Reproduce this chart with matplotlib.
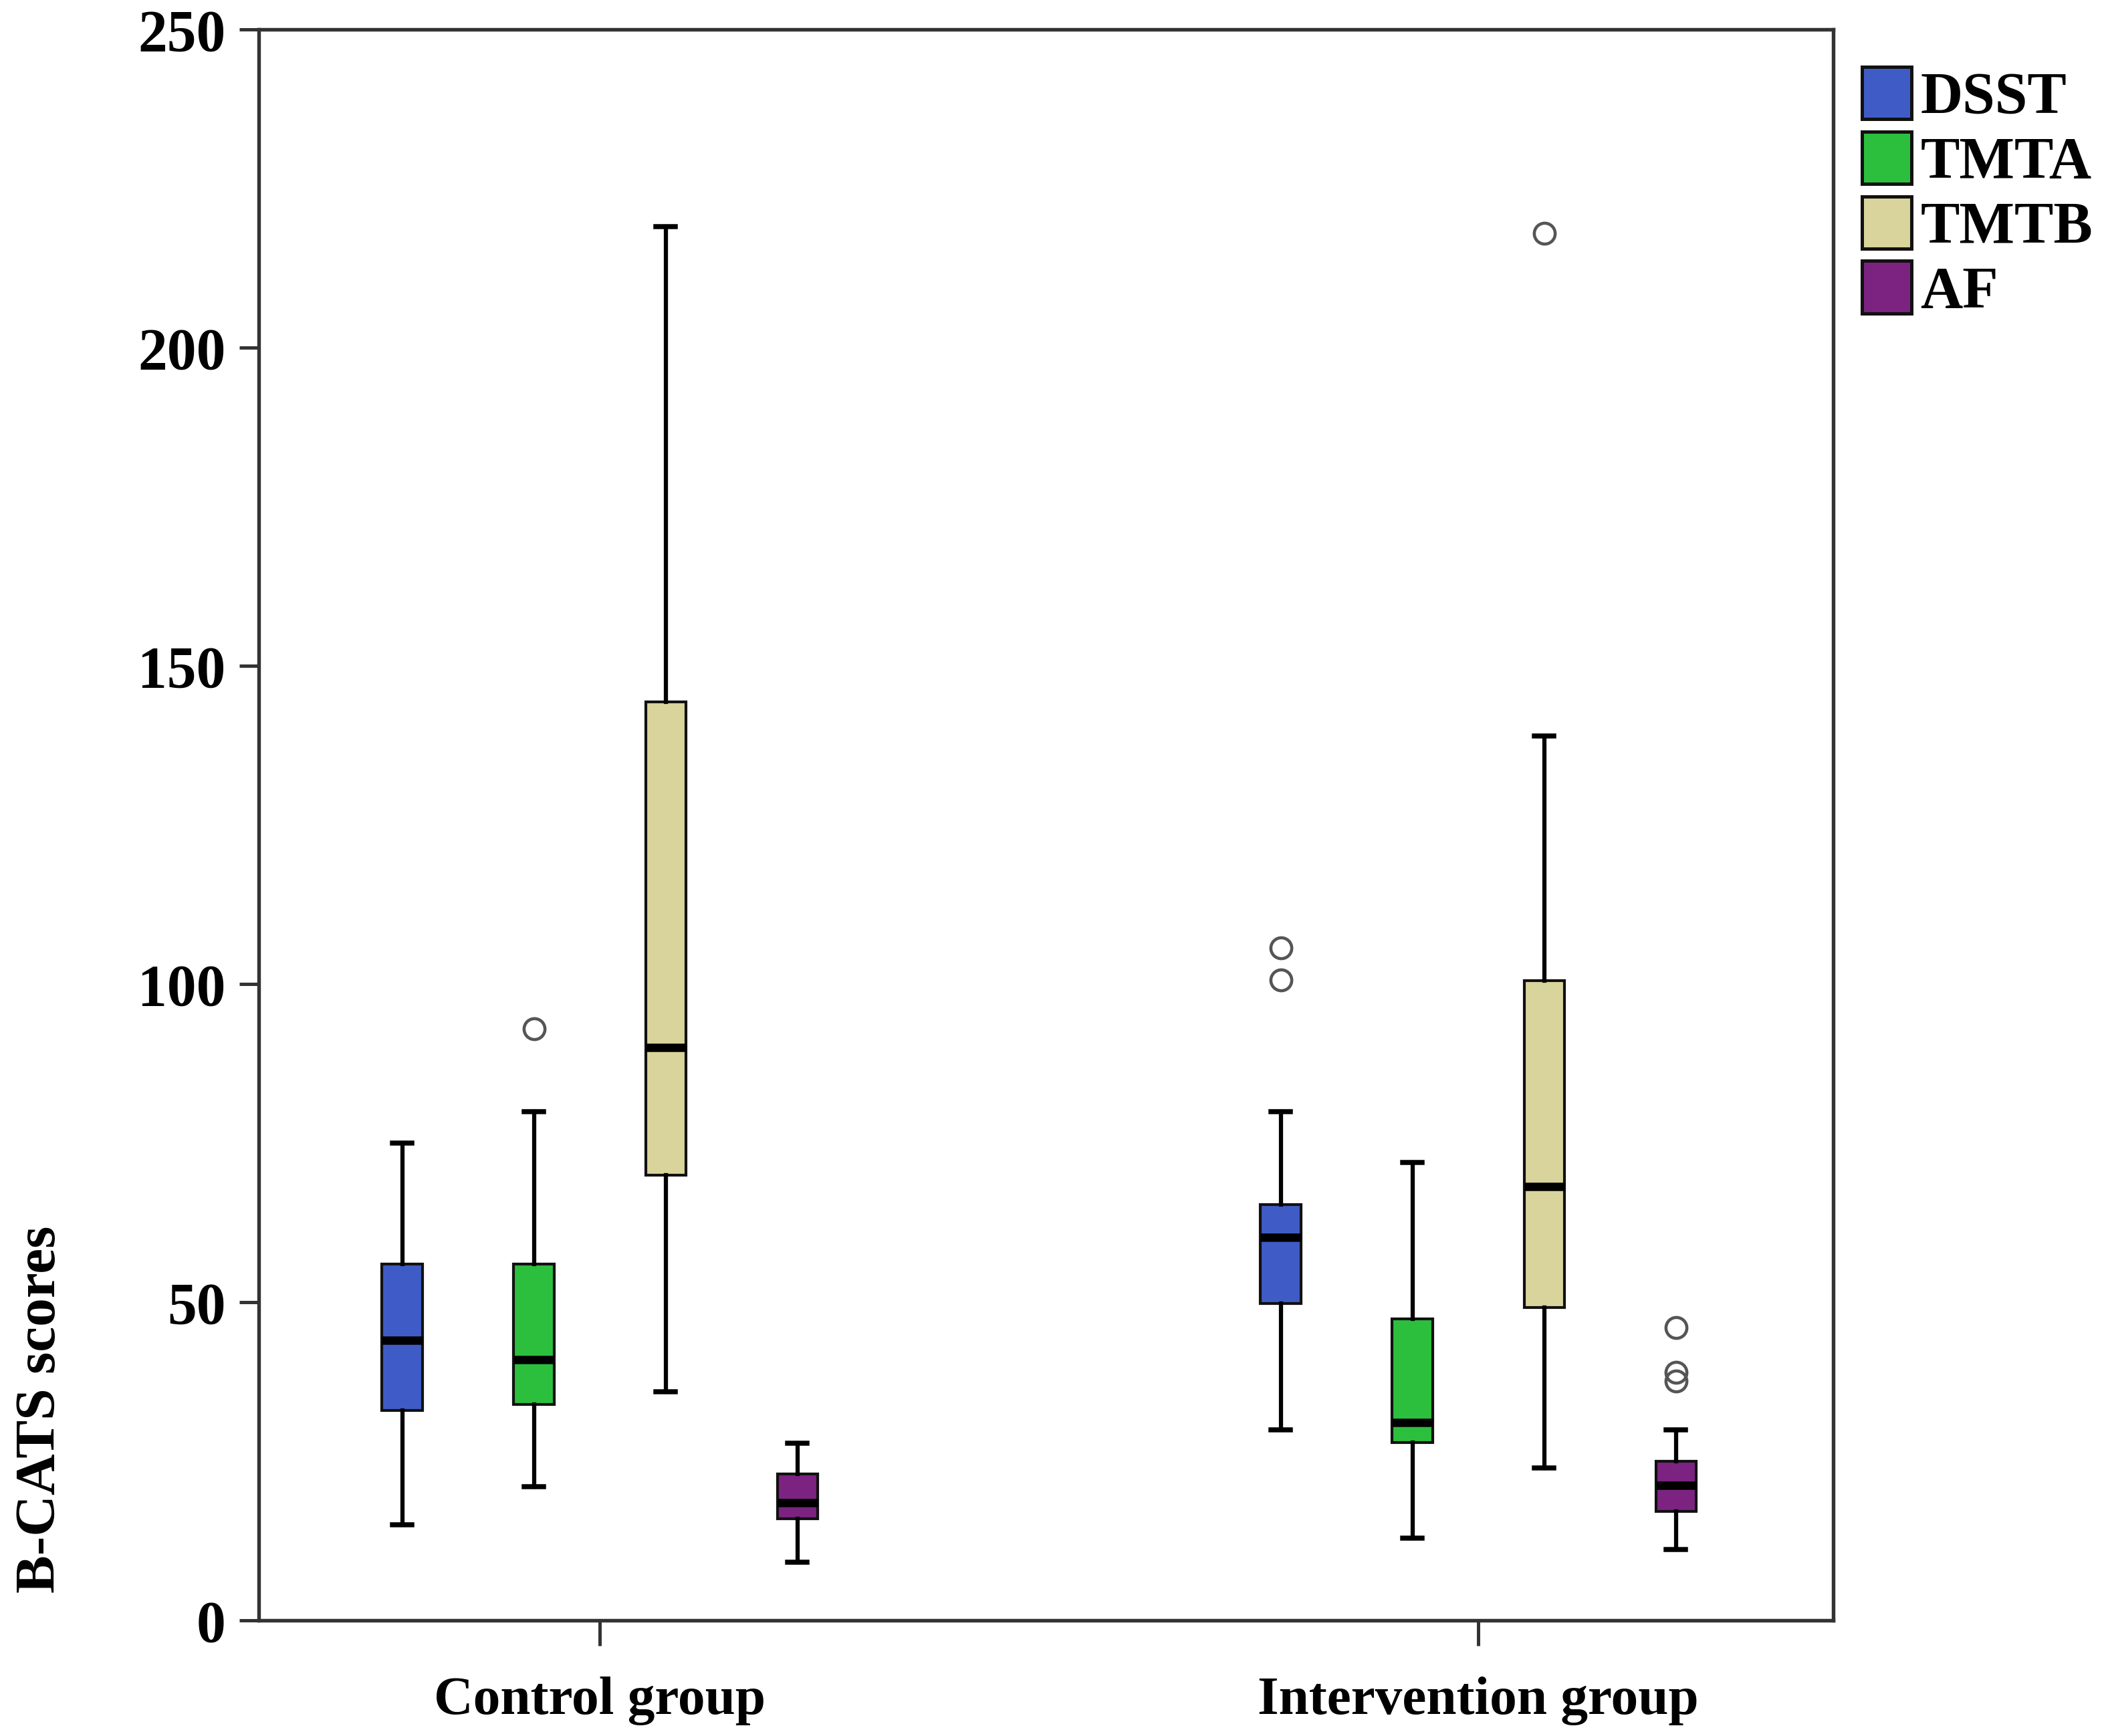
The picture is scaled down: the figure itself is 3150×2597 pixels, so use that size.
import matplotlib
matplotlib.use("Agg")
import matplotlib.pyplot as plt
from matplotlib.patches import Patch

plt.rcParams['font.family'] = ['Liberation Serif', 'DejaVu Serif']
plt.rcParams['font.weight'] = 'bold'

# data (box summary values)
groups = ["Control group", "Intervention group"]
tests = ["DSST", "TMTA", "TMTB", "AF"]
colors = ["#3f5cc6", "#2cbf3e", "#d8d49b", "#7c2381"]

# per test: [control, intervention]
whislo = {"DSST": [15, 30], "TMTA": [21, 13], "TMTB": [36, 24], "AF": [9.2, 11.2]}
q1 = {"DSST": [33, 49.8], "TMTA": [34, 28], "TMTB": [70, 49.2], "AF": [16, 17.1]}
med = {"DSST": [44, 60.2], "TMTA": [41, 31.1], "TMTB": [90, 68.2], "AF": [18.5, 21.2]}
q3 = {"DSST": [56, 65.4], "TMTA": [56, 47.4], "TMTB": [144.3, 100.5], "AF": [23, 25]}
whishi = {"DSST": [75, 80], "TMTA": [80, 72], "TMTB": [219, 139], "AF": [27.9, 30]}
fliers = {"DSST": [[], [105.7, 100.6]], "TMTA": [[93], []],
          "TMTB": [[], [218]], "AF": [[], [46, 39, 37.6]]}

fig = plt.figure(figsize=(10.5, 8.657), dpi=300)
ax = fig.add_axes([0.123, 0.0665, 0.7475, 0.9165])

offsets = [-1.5, -0.5, 0.5, 1.5]
step = 0.15
for k, t in enumerate(tests):
    stats = []
    for g in range(len(groups)):
        stats.append(dict(whislo=whislo[t][g], q1=q1[t][g], med=med[t][g],
                          q3=q3[t][g], whishi=whishi[t][g], fliers=fliers[t][g]))
    pos = [g + offsets[k] * step for g in range(len(groups))]
    ax.bxp(stats, positions=pos, widths=0.046, patch_artist=True, showfliers=True,
           capwidths=0.022,
           boxprops=dict(facecolor=colors[k], edgecolor="#111111", linewidth=1.0),
           medianprops=dict(color="black", linewidth=3.0, solid_capstyle="butt"),
           whiskerprops=dict(color="black", linewidth=1.5),
           capprops=dict(color="black", linewidth=1.8),
           flierprops=dict(marker="o", markerfacecolor="none", markeredgecolor="#555555",
                           markersize=7.5, markeredgewidth=1.1))

ax.set_xlim(-0.388, 1.404)
ax.set_ylim(0, 250)
ax.set_yticks([0, 50, 100, 150, 200, 250])
ax.set_xticks(range(len(groups)))
ax.set_xticklabels(groups, fontsize=19.5, fontweight="bold")
ax.tick_params(axis="y", labelsize=21, length=7, width=1.2, pad=5, color="#333333")
ax.tick_params(axis="x", length=9, width=1.2, pad=11, color="#333333")
for lab in ax.get_yticklabels():
    lab.set_fontweight("bold")
for sp in ax.spines.values():
    sp.set_linewidth(1.3)
    sp.set_color("#333333")

ax.set_ylabel("B-CATS scores", fontsize=20.5, fontweight="bold")
ax.yaxis.set_label_coords(-0.122, 0.133)

handles = [Patch(facecolor=c, edgecolor="#111111", linewidth=1.2) for c in colors]
fig.legend(handles, tests, loc="upper left", bbox_to_anchor=(0.873, 0.975),
           frameon=False, fontsize=21, handlelength=0.85, handleheight=1.0,
           handletextpad=0.15, labelspacing=0.1, borderaxespad=0)

fig.savefig("out.png", dpi=300)
